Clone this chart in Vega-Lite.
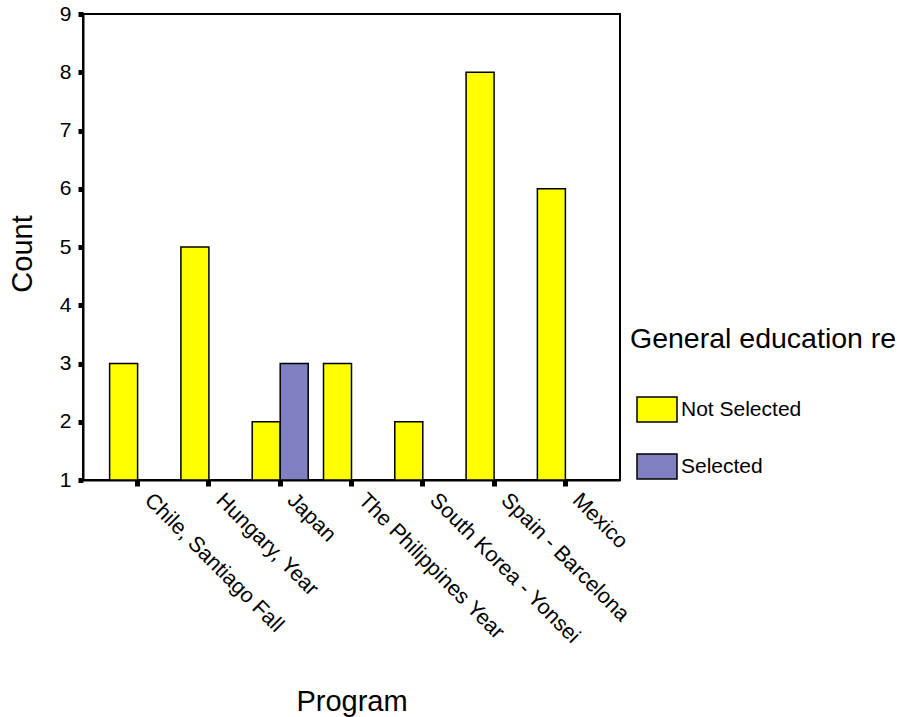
{
  "$schema": "https://vega.github.io/schema/vega-lite/v6.json",
  "width": 537,
  "height": 466,
  "autosize": {"type": "none"},
  "padding": {"left": 83, "top": 14, "right": 281, "bottom": 237},
  "background": "white",
  "config": {
    "view": {"stroke": "black", "strokeWidth": 2},
    "font": "Liberation Sans",
    "axis": {"grid": false}
  },
  "data": {
    "values": [
      {"program": "Chile, Santiago Fall", "status": "Not Selected", "count": 3},
      {"program": "Hungary, Year", "status": "Not Selected", "count": 5},
      {"program": "Japan", "status": "Not Selected", "count": 2},
      {"program": "Japan", "status": "Selected", "count": 3},
      {"program": "The Philippines Year", "status": "Not Selected", "count": 3},
      {"program": "South Korea - Yonsei", "status": "Not Selected", "count": 2},
      {"program": "Spain - Barcelona", "status": "Not Selected", "count": 8},
      {"program": "Mexico", "status": "Not Selected", "count": 6}
    ]
  },
  "mark": {"type": "bar", "stroke": "black", "strokeWidth": 1.5},
  "encoding": {
    "x": {
      "field": "program",
      "type": "nominal",
      "sort": ["Chile, Santiago Fall", "Hungary, Year", "Japan", "The Philippines Year", "South Korea - Yonsei", "Spain - Barcelona", "Mexico"],
      "scale": {"paddingInner": 0, "paddingOuter": 0.266},
      "axis": {
        "title": "Program",
        "titleFontSize": 29,
        "titleFontWeight": "normal",
        "titleColor": "black",
        "titleY": 230,
        "titleBaseline": "alphabetic",
        "labelAngle": 45,
        "labelFontSize": 21.5,
        "labelColor": "black",
        "labelAlign": "left",
        "labelBaseline": "alphabetic",
        "labelPadding": 15,
        "labelOffset": 6,
        "labelLimit": 400,
        "tickSize": 6,
        "tickWidth": 5,
        "tickColor": "black",
        "domainColor": "black",
        "domainWidth": 2
      }
    },
    "xOffset": {
      "field": "status",
      "type": "nominal",
      "scale": {"domain": ["Not Selected", "Selected"], "paddingInner": 0, "paddingOuter": 0.273}
    },
    "y": {
      "field": "count",
      "type": "quantitative",
      "scale": {"domain": [1, 9], "nice": false, "zero": false},
      "axis": {
        "values": [1, 2, 3, 4, 5, 6, 7, 8, 9],
        "title": "Count",
        "titleFontSize": 29,
        "titleFontWeight": "normal",
        "titleColor": "black",
        "titleX": -61,
        "titleY": 239.5,
        "titleAlign": "center",
        "titleBaseline": "middle",
        "labelFontSize": 21,
        "labelColor": "black",
        "labelPadding": 7,
        "tickSize": 5,
        "tickWidth": 5,
        "tickColor": "black",
        "domainColor": "black",
        "domainWidth": 2
      }
    },
    "y2": {"datum": 1},
    "color": {
      "field": "status",
      "type": "nominal",
      "scale": {"domain": ["Not Selected", "Selected"], "range": ["#FFFF00", "#8080C0"]},
      "legend": {
        "orient": "none",
        "legendX": 547,
        "legendY": 311,
        "title": "General education re",
        "titleFontSize": 28.5,
        "titleFontWeight": "normal",
        "titleColor": "black",
        "titleLimit": 500,
        "titlePadding": 35,
        "labelFontSize": 21,
        "labelColor": "black",
        "labelOffset": 3,
        "symbolType": "M-1,-0.625H1V0.625H-1Z",
        "symbolSize": 1600,
        "symbolStrokeColor": "black",
        "symbolStrokeWidth": 1.5,
        "symbolOpacity": 1,
        "symbolOffset": 6,
        "rowPadding": 20
      }
    }
  }
}
